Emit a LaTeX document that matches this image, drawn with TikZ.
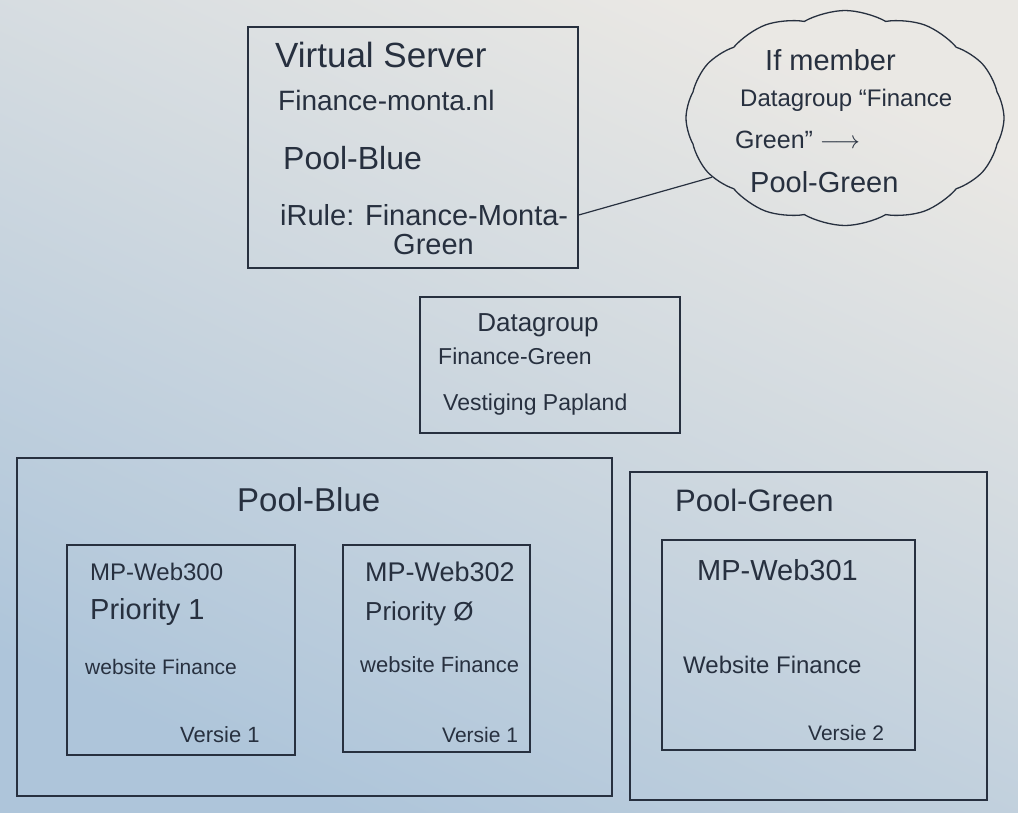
\documentclass[tikz,border=0pt]{standalone}
\usepackage{fontspec}
\setmainfont{Liberation Sans}
\usetikzlibrary{shapes.symbols}
\definecolor{ink}{HTML}{27303F}
\definecolor{papertop}{RGB}{234,232,228}
\definecolor{papermid}{RGB}{218,222,225}
\definecolor{paperbot}{RGB}{174,197,218}
\tikzset{
  box/.style={draw=ink, line width=1.5pt, rectangle, inner sep=0pt},
  lbl/.style={text=ink, anchor=west, inner sep=0pt, font=\fontsize{#1}{#1}\selectfont},
  lbl/.default=24,
  link/.style={draw=ink, line width=1.2pt},
}
\begin{document}
\begin{tikzpicture}[x=1pt, y=-1pt]
  \shade[top color=papertop, middle color=papermid, bottom color=paperbot, shading angle=-25] (0,0) rectangle (1018,812);
  \useasboundingbox (0,0) rectangle (1018,812);

  % Virtual server
  \node[box, minimum width=330pt, minimum height=241pt] (vs) at (413,147.5) {};
  \node[lbl=35] (vstitle) at (275,55) {Virtual Server};
  \node[lbl=28] (vsname) at (278,100) {Finance-monta.nl};
  \node[lbl=32] (vspool) at (283,158) {Pool-Blue};
  \node[lbl=29] (irule) at (280,215) {iRule: Finance-Monta-};
  \node[lbl=29] (irule2) at (393,245) {Green};

  % Cloud
  \node[cloud, draw=ink, line width=1.3pt, cloud puffs=12, cloud puff arc=60,
        minimum width=318pt, minimum height=215pt, inner sep=0pt] (cloud) at (845,118) {};
  \node[lbl=29] (c1) at (765,60) {If member};
  \node[lbl=24] (c2) at (740,100) {Datagroup ``Finance};
  \node[lbl=25] (c3) at (735,140) {Green'' $\longrightarrow$};
  \node[lbl=29] (c4) at (750,182) {Pool-Green};
  \draw[link] (vs.east |- irule.east) -- (cloud.204);

  % Datagroup
  \node[box, minimum width=260pt, minimum height=136pt] (dg) at (550,365) {};
  \node[lbl=26, anchor=center] (dgtitle) at (538,325) {Datagroup};
  \node[lbl=23] (dgname) at (438,356) {Finance-Green};
  \node[lbl=23] (dgloc) at (443,405) {Vestiging Papland};

  % Pool Blue
  \node[box, minimum width=595pt, minimum height=338pt] (pb) at (314.5,627) {};
  \node[lbl=33] (pbtitle) at (237,500) {Pool-Blue};
  \node[box, minimum width=228pt, minimum height=210pt] (w300) at (181,650) {};
  \node[lbl=24] (w300a) at (90,572) {MP-Web300};
  \node[lbl=29] (w300b) at (90,612) {Priority 1};
  \node[lbl=21] (w300c) at (85,667) {website Finance};
  \node[lbl=22] (w300d) at (180,735) {Versie 1};
  \node[box, minimum width=187pt, minimum height=207pt] (w302) at (436.5,648.5) {};
  \node[lbl=27] (w302a) at (365,572) {MP-Web302};
  \node[lbl=26] (w302b) at (365,614) {Priority Ø};
  \node[lbl=22] (w302c) at (360,665) {website Finance};
  \node[lbl=21] (w302d) at (442,735) {Versie 1};

  % Pool Green
  \node[box, minimum width=357pt, minimum height=328pt] (pg) at (808.5,636) {};
  \node[lbl=31] (pgtitle) at (675,500) {Pool-Green};
  \node[box, minimum width=253pt, minimum height=210pt] (w301) at (788.5,645) {};
  \node[lbl=29] (w301a) at (697,570) {MP-Web301};
  \node[lbl=24] (w301c) at (683,665) {Website Finance};
  \node[lbl=21] (w301d) at (808,733) {Versie 2};
\end{tikzpicture}
\end{document}
